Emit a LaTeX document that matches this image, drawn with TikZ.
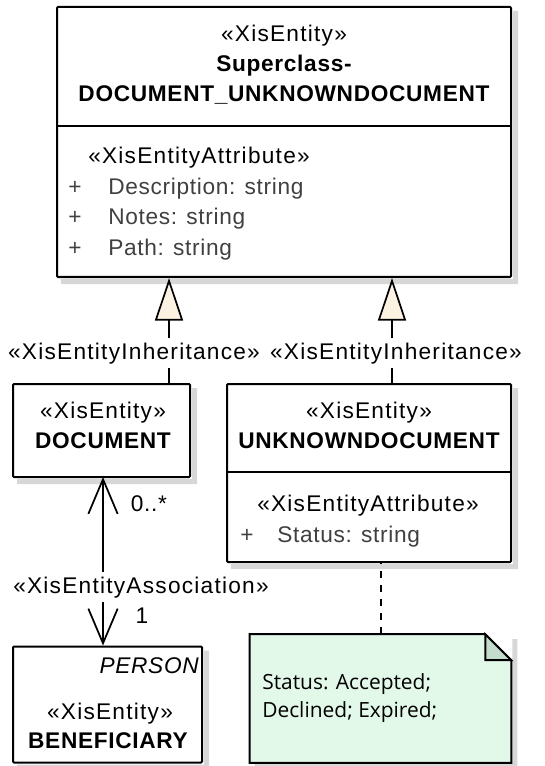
\documentclass[tikz,border=0pt]{standalone}
\usepackage{fontspec}
\setmainfont{Liberation Sans}
\newfontfamily\notefont{Open Sans}
\usetikzlibrary{arrows.meta,calc}

\definecolor{inhfill}{RGB}{252,242,226}
\definecolor{notefill}{RGB}{226,248,233}
\definecolor{foldfill}{RGB}{196,220,204}
\definecolor{attrgray}{RGB}{64,64,64}
\definecolor{shadowgray}{RGB}{215,215,215}

% shadow strip right of and below a box
\newcommand\boxshadow[1]{%
  \fill [shadowgray] ($(#1.north east)+(1,5)$) -- ($(#1.north east)+(6,5)$) -- ($(#1.south east)+(6,6)$)
    -- ($(#1.south west)+(5,6)$) -- ($(#1.south west)+(5,1)$) -- ($(#1.south east)+(1,1)$) -- cycle;}

\tikzset{
  entity/.style={draw, line width=1.5pt, fill=white, rectangle, inner sep=0pt, rounded corners=0.75pt},
  divider/.style={line width=1.5pt},
  txt/.style={inner sep=0pt, text height=12.5pt, text depth=3.5pt, font=\fontsize{17}{20}\selectfont\addfontfeature{LetterSpace=3}},
  stereo/.style={txt, font=\fontsize{17}{20}\selectfont\addfontfeature{LetterSpace=5.5}},
  ename/.style={txt, font=\fontsize{17}{20}\selectfont\bfseries\addfontfeature{LetterSpace=3}},
  attr/.style={txt, text=attrgray, anchor=west},
  linklabel/.style={stereo, fill=white, inner ysep=3pt, inner xsep=1pt},
  inherit/.style={line width=1.3pt, -{Triangle[length=32pt, width=21pt, fill=inhfill, line width=1.3pt]}},
  assoc/.style={line width=1.3pt, {Straight Barb[length=26pt, width=22pt, line width=1.3pt]}-{Straight Barb[length=26pt, width=22pt, line width=1.3pt]}},
  anchorline/.style={line width=1.5pt, dash pattern={on 5.25pt off 5.25pt}},
  notetxt/.style={inner sep=0pt, anchor=west, font=\notefont\fontsize{15.7}{19}\selectfont}
}

\begin{document}
\begin{tikzpicture}[x=0.75pt,y=0.75pt,yscale=-1,xscale=1]
\useasboundingbox (0,0) rectangle (545,766);

%Shape: Class [id:super]
\node (super) [entity, minimum width=340.5pt, minimum height=202.5pt] at (284,142) {};
\boxshadow{super}
\draw [divider] (super.west |- 0,126) -- (super.east |- 0,126);
% Text Node
\node (superSt) [stereo] at (284,36) {«XisEntity»};
\node (superName1) [ename] at (284,66) {Superclass-};
\node (superName2) [ename] at (284,96) {DOCUMENT\_UNKNOWNDOCUMENT};
\node (superAttSt) [stereo, anchor=west] at (88,158) {«XisEntityAttribute»};
\node (superPlus1) [attr] at (68,189) {+};
\node (superAtt1) [attr] at (108,189) {Description: string};
\node (superPlus2) [attr] at (68,219) {+};
\node (superAtt2) [attr] at (108,219) {Notes: string};
\node (superPlus3) [attr] at (68,250) {+};
\node (superAtt3) [attr] at (108,250) {Path: string};

%Shape: Class [id:docu]
\node (docu) [entity, minimum width=132.75pt, minimum height=69.75pt] at (101.5,430.5) {};
\boxshadow{docu}
% Text Node
\node (docuSt) [stereo] at (103,412) {«XisEntity»};
\node (docuName) [ename] at (103,442) {DOCUMENT};

%Shape: Class [id:unk]
\node (unk) [entity, minimum width=213pt, minimum height=133.5pt] at (369,473) {};
\boxshadow{unk}
\draw [divider] (unk.west |- 0,472) -- (unk.east |- 0,472);
% Text Node
\node (unkSt) [stereo] at (369,412) {«XisEntity»};
\node (unkName) [ename] at (369,442) {UNKNOWNDOCUMENT};
\node (unkAttSt) [stereo] at (368,505) {«XisEntityAttribute»};
\node (unkPlus1) [attr] at (240,536) {+};
\node (unkAtt1) [attr] at (277,536) {Status: string};

%Shape: Class [id:benef]
\node (benef) [entity, minimum width=141.75pt, minimum height=87pt] at (107.5,704.5) {};
\boxshadow{benef}
% Text Node
\node (benefPkg) [stereo, anchor=east, font=\fontsize{17}{20}\selectfont\itshape\addfontfeature{LetterSpace=3}] at (199,667) {PERSON};
\node (benefSt) [stereo] at (110,713) {«XisEntity»};
\node (benefName) [ename] at (108,742) {BENEFICIARY};

%Shape: Note [id:note]
\node (note) [minimum width=195.75pt, minimum height=96pt, inner sep=0pt] at (380.5,698.5) {};
\boxshadow{note}
\draw [line width=1.5pt, fill=notefill] (note.north west) -- ($(note.north east)+(-26,0)$) -- ($(note.north east)+(0,26)$) -- (note.south east) -- (note.south west) -- cycle;
\draw [line width=1.5pt, fill=foldfill] ($(note.north east)+(-26,0)$) -- ($(note.north east)+(-26,26)$) -- ($(note.north east)+(0,26)$) -- cycle;
% Text Node
\node (noteTxt1) [notetxt] at (262,684) {Status: Accepted;};
\node (noteTxt2) [notetxt] at (262,712) {Declined; Expired;};

%Connectors
\coordinate (inhL) at (169,384);
\coordinate (inhR) at (392,384);
\draw [inherit] (inhL) -- (inhL |- super.south);
\draw [inherit] (inhR) -- (inhR |- super.south);
\node (inhLabelL) [linklabel] at (134,353) {«XisEntityInheritance»};
\node (inhLabelR) [linklabel] at (396,353) {«XisEntityInheritance»};

\coordinate (assocTop) at (103,477);
\draw [assoc] (assocTop) -- (assocTop |- benef.north);
\node (assocLabel) [linklabel] at (141,587) {«XisEntityAssociation»};
\node (multTop) [txt] at (149,505) {0..*};
\node (multBot) [txt] at (142,617) {1};

\draw [anchorline] (note.north) -- (note.north |- unk.south);

\end{tikzpicture}
\end{document}
